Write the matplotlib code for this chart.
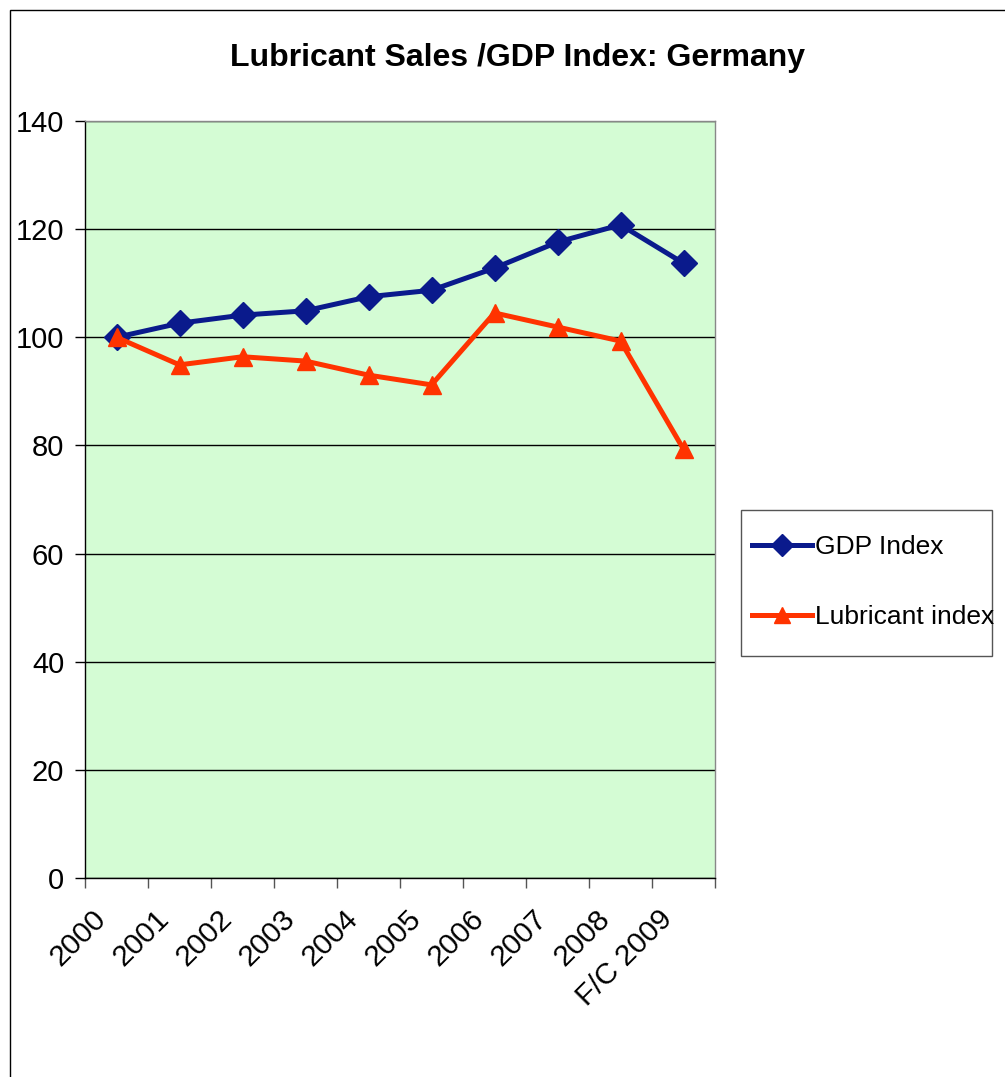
import numpy as np
import matplotlib.pyplot as plt
import matplotlib.transforms as mtransforms
from matplotlib.patches import Rectangle
from matplotlib.lines import Line2D

plt.rcParams['font.family'] = ['Liberation Sans', 'DejaVu Sans']

# Data
years = ['2000', '2001', '2002', '2003', '2004', '2005', '2006', '2007', '2008', 'F/C 2009']
gdp_index = [100.0, 102.6, 104.1, 104.9, 107.5, 108.7, 112.8, 117.6, 120.8, 113.7]
lubricant_index = [100.0, 94.9, 96.4, 95.6, 93.0, 91.2, 104.5, 101.9, 99.3, 79.3]

gdp_color = '#0A1A8C'
lub_color = '#FF3300'

W, H = 1005, 1077
fig = plt.figure(figsize=(W / 100, H / 100), dpi=100)
ax = fig.add_axes([85 / W, 1 - 878 / H, 630 / W, 757 / H])
ax.set_facecolor('#D4FCD4')

x = np.arange(len(years))
ax.plot(x, gdp_index, color=gdp_color, lw=3.6, marker='D', markersize=13,
        zorder=3, clip_on=False)
ax.plot(x, lubricant_index, color=lub_color, lw=3.6, marker='^', markersize=13,
        zorder=3, clip_on=False)

ax.set_xlim(-0.5, len(years) - 0.5)
ax.set_ylim(0, 140)
ax.set_yticks(np.arange(0, 141, 20))
ax.yaxis.grid(True, color='black', lw=1)
ax.set_axisbelow(True)

# ticks at category boundaries, labels at centres
ax.set_xticks(np.arange(-0.5, len(years)), minor=False)
ax.set_xticklabels([])
ax.set_xticks(x, minor=True)
ax.set_xticklabels(years, minor=True, rotation=45, ha='right', va='top',
                   rotation_mode='anchor', fontsize=21.5)
ax.tick_params(axis='x', which='minor', length=0, pad=19)
ax.tick_params(axis='x', which='major', length=7, direction='out', width=1, colors='#555555')
ax.tick_params(axis='y', length=7, direction='out', labelsize=21, width=1, pad=8)

# shift rotated labels left so their ends sit just before the category centre
shift = mtransforms.ScaledTranslation(-0.25, 0, fig.dpi_scale_trans)
for lbl in ax.get_xticklabels(minor=True):
    lbl.set_transform(lbl.get_transform() + shift)

for side in ['top', 'right']:
    ax.spines[side].set_color('#888888')
for side in ['left', 'bottom']:
    ax.spines[side].set_color('black')
for s in ax.spines.values():
    s.set_linewidth(1)

fig.text(517 / W, 1 - 58 / H, 'Lubricant Sales /GDP Index: Germany',
         ha='center', va='center', fontsize=23, fontweight='bold')

# legend box drawn by hand, entries placed inside it
fig.patches.append(Rectangle((741 / W, 1 - 656 / H), 251 / W, 146 / H,
                             transform=fig.transFigure, fill=True, facecolor='white',
                             edgecolor='#555555', lw=1))
handles = [Line2D([], [], color=gdp_color, lw=3.6, marker='D', markersize=11),
           Line2D([], [], color=lub_color, lw=3.6, marker='^', markersize=12)]
leg = fig.legend(handles, ['GDP Index', 'Lubricant index'],
                 loc='upper left', bbox_to_anchor=(752 / W, 1 - 535 / H),
                 fontsize=19, frameon=False,
                 handlelength=2.27, handletextpad=0.1, labelspacing=1.75,
                 borderpad=0, borderaxespad=0)

# outer chart border
fig.patches.append(Rectangle((10 / W, -0.01), 1.2, 1 - 10 / H + 0.01,
                             transform=fig.transFigure, fill=False,
                             edgecolor='black', lw=1))

fig.savefig('out.png', dpi=100)
